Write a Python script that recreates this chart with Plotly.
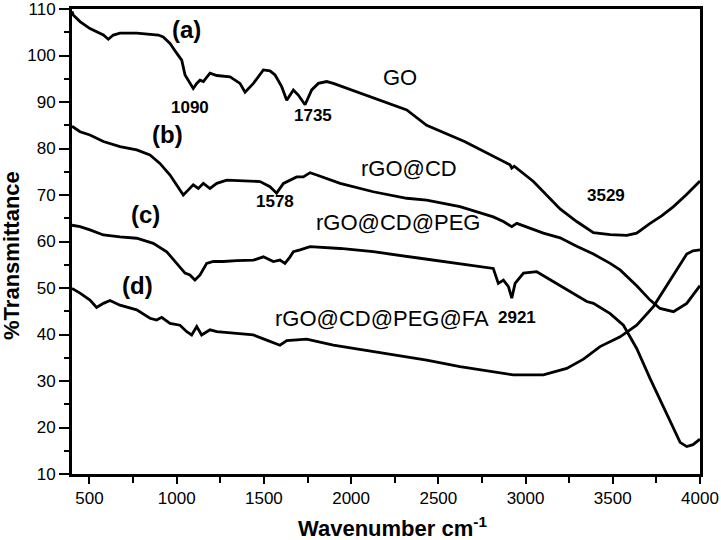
import plotly.graph_objects as go

# ---- data ----
go_wn = [400, 407, 446, 503, 580, 608, 637, 675, 771, 895, 923, 962, 1000, 1029, 1048, 1070, 1095, 1115, 1134, 1153,
         1191, 1230, 1306, 1363, 1392, 1440, 1497, 1535, 1564, 1602, 1631, 1669, 1697, 1736, 1774, 1812, 1860, 1898,
         2032, 2185, 2319, 2433, 2650, 2911, 2921, 2935, 3045, 3198, 3293, 3389, 3485, 3580, 3637, 3714, 3780, 3848,
         3920, 4000]
go_t = [109.5, 108.7, 107.3, 105.8, 104.4, 103.5, 104.4, 104.8, 104.8, 104.4, 104.0, 102.6, 100.5, 99.0, 95.8, 94.5,
        92.9, 94.0, 94.7, 94.4, 96.2, 95.7, 95.4, 94.0, 92.1, 94.0, 96.9, 96.7, 95.8, 93.3, 90.4, 92.6, 91.5, 89.4,
        92.6, 94.0, 94.4, 94.0, 92.2, 90.1, 88.3, 85.0, 81.5, 76.5, 75.8, 76.2, 72.9, 67.0, 64.3, 61.9, 61.5, 61.3,
        61.8, 63.9, 65.5, 67.5, 70.0, 73.0]

cd_wn = [400, 446, 503, 580, 675, 771, 847, 904, 962, 1000, 1038, 1067, 1095, 1124, 1153, 1191, 1230, 1287, 1420,
         1478, 1535, 1573, 1612, 1688, 1726, 1765, 1803, 1937, 2127, 2319, 2433, 2624, 2815, 2873, 2921, 2950, 3102,
         3198, 3293, 3389, 3485, 3542, 3637, 3714, 3771, 3848, 3924, 4000]
cd_t = [84.8, 83.6, 82.9, 81.5, 80.4, 79.7, 78.6, 76.8, 74.3, 72.2, 70.0, 71.1, 72.2, 71.4, 72.5, 71.4, 72.5, 73.2,
        73.1, 72.9, 71.8, 70.4, 72.5, 73.9, 73.9, 74.8, 74.3, 72.5, 70.7, 69.3, 68.9, 67.5, 65.3, 64.3, 63.2, 63.9,
        61.8, 60.8, 59.0, 57.3, 55.3, 53.9, 50.5, 47.4, 45.6, 44.9, 46.7, 50.5]

peg_wn = [400, 446, 503, 580, 675, 771, 866, 943, 1000, 1048, 1076, 1105, 1134, 1172, 1210, 1267, 1344, 1440, 1497,
          1554, 1592, 1621, 1650, 1669, 1707, 1765, 1937, 2127, 2395, 2600, 2815, 2844, 2873, 2902, 2921, 2940, 2988,
          3064, 3198, 3351, 3389, 3485, 3561, 3637, 3714, 3771, 3809, 3848, 3886, 3924, 3960, 4000]
peg_t = [63.5, 63.2, 62.5, 61.4, 61.0, 60.7, 59.6, 57.8, 55.3, 53.2, 52.8, 51.7, 52.8, 55.3, 55.7, 55.7, 55.9, 56.0,
         56.7, 55.7, 56.0, 55.3, 56.7, 57.8, 58.2, 58.9, 58.5, 57.8, 56.4, 55.3, 54.2, 51.0, 51.7, 50.3, 47.8, 51.0,
         53.2, 53.5, 50.5, 47.1, 46.7, 44.5, 42.0, 37.0, 30.5, 25.9, 23.0, 20.0, 16.8, 15.9, 16.3, 17.5]

fa_wn = [400, 446, 503, 541, 580, 618, 675, 771, 847, 885, 914, 962, 1019, 1058, 1086, 1115, 1143, 1191, 1230, 1344,
         1440, 1516, 1592, 1631, 1745, 1898, 2051, 2433, 2624, 2815, 2930, 3102, 3236, 3332, 3427, 3542, 3637, 3733,
         3809, 3867, 3924, 3960, 4000]
fa_t = [49.9, 48.9, 47.4, 45.8, 46.7, 47.3, 46.3, 45.3, 43.5, 43.1, 43.7, 42.4, 42.0, 40.6, 39.9, 41.7, 39.9, 41.0,
        40.6, 40.3, 39.9, 38.8, 37.7, 38.7, 39.0, 37.7, 36.8, 34.5, 33.1, 32.0, 31.3, 31.3, 32.7, 34.7, 37.4, 39.5,
        42.0, 46.0, 50.5, 54.0, 57.3, 58.0, 58.2]

series = [("GO", go_wn, go_t), ("rGO@CD", cd_wn, cd_t),
          ("rGO@CD@PEG", peg_wn, peg_t), ("rGO@CD@PEG@FA", fa_wn, fa_t)]

# labels: (text, x, y, size, bold)
labels = [("(a)", 1059, 105.7, 24, True), ("(b)", 947, 83.1, 24, True),
          ("(c)", 819, 65.9, 24, True), ("(d)", 778, 50.6, 24, True),
          ("1090", 1077, 88.8, 17, True), ("1735", 1782, 87.1, 17, True),
          ("1578", 1564, 68.6, 17, True), ("3529", 3461, 70.0, 17, True),
          ("2921", 2950, 43.7, 17, True),
          ("GO", 2281, 95.2, 22, False), ("rGO@CD", 2332, 75.7, 22, False),
          ("rGO@CD@PEG", 2269, 64.1, 22, False), ("rGO@CD@PEG@FA", 2175, 43.4, 22, False)]

x_ticks = [500, 1000, 1500, 2000, 2500, 3000, 3500, 4000]
y_ticks = [10, 20, 30, 40, 50, 60, 70, 80, 90, 100, 110]
x_title = "<b>Wavenumber cm<sup>-1</sup></b>"
y_title = "<b>%Transmittance</b>"

FONT = "Liberation Sans, Arial, sans-serif"

fig = go.Figure()
for name, xs, ys in series:
    fig.add_trace(go.Scatter(x=xs, y=ys, mode="lines", name=name,
                             line=dict(color="black", width=2.8), showlegend=False))

for text, x, y, size, bold in labels:
    fig.add_annotation(x=x, y=y, xref="x", yref="y", showarrow=False,
                       text=f"<b>{text}</b>" if bold else text,
                       font=dict(family=FONT, size=size, color="black"))

# axis titles placed as annotations for precise positioning
fig.add_annotation(x=0.51, y=-0.113, xref="paper", yref="paper", showarrow=False,
                   text=x_title, font=dict(family=FONT, size=22, color="black"),
                   xanchor="center", yanchor="middle")
fig.add_annotation(x=-0.0955, y=0.469, xref="paper", yref="paper", showarrow=False,
                   text=y_title, textangle=-90, font=dict(family=FONT, size=22, color="black"),
                   xanchor="center", yanchor="middle")

fig.update_layout(
    width=721, height=540,
    margin=dict(l=72, r=21, t=9, b=66, autoexpand=False),
    plot_bgcolor="white", paper_bgcolor="white",
    font=dict(family=FONT, color="black"),
)
fig.update_xaxes(range=[400, 4000], tickvals=x_ticks, ticktext=[str(v) for v in x_ticks],
                 ticks="outside", ticklen=7, tickwidth=2, tickcolor="black", ticklabeloverflow="allow",
                 minor=dict(dtick=250, tick0=0, ticks="outside", ticklen=6, tickwidth=2, tickcolor="black"),
                 showline=True, linewidth=3, linecolor="black", mirror=True, automargin=False,
                 showgrid=False, zeroline=False, tickfont=dict(size=17, family=FONT))
fig.update_yaxes(range=[10, 110], tickvals=y_ticks, ticktext=[str(v) for v in y_ticks],
                 ticks="outside", ticklen=10, tickwidth=2, tickcolor="black", ticklabeloverflow="allow",
                 minor=dict(dtick=5, tick0=0, ticks="outside", ticklen=5, tickwidth=2, tickcolor="black"),
                 showline=True, linewidth=3, linecolor="black", mirror=True, automargin=False,
                 showgrid=False, zeroline=False, tickfont=dict(size=17, family=FONT))

fig.write_html("out.html", config={"displayModeBar": False},
               post_script="document.body.style.margin='0px';document.body.style.overflow='hidden';")
